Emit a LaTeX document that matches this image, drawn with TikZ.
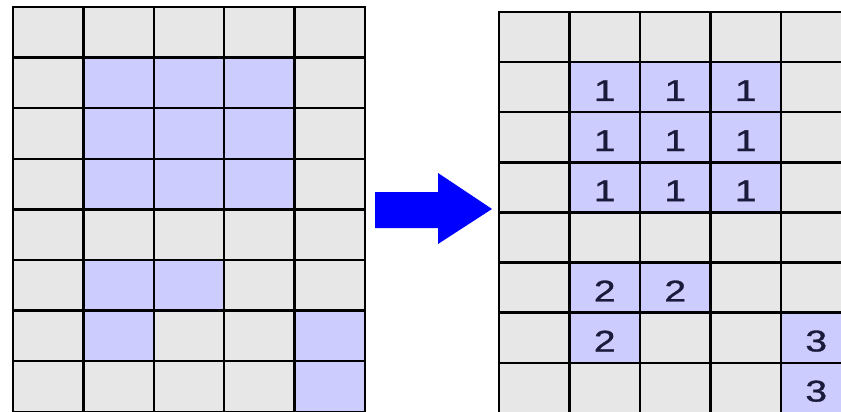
\documentclass[tikz,border=0pt]{standalone}
\usepackage{fontspec}
\setmainfont{Liberation Sans}
\newfontfamily\digitfont[FakeStretch=1.3, FakeBold=1]{Liberation Sans}
\definecolor{cellgray}{HTML}{E7E7E7}
\definecolor{cellblue}{HTML}{CCCCFF}
\definecolor{arrowblue}{HTML}{0000FF}
\definecolor{digit}{HTML}{1A1A3A}
\newcommand{\bigdigit}[1]{\scalebox{1.25}{#1}}
\begin{document}
\begin{tikzpicture}[x=1pt,y=-1pt,
  cellbase/.style={draw=black, line width=2.4pt, rectangle, inner sep=0pt},
  lcell/.style={cellbase, minimum width=70.4pt, minimum height=50.6pt},
  rcell/.style={cellbase, minimum width=70.4pt, minimum height=50.1pt},
  grayfill/.style={fill=cellgray},
  bluefill/.style={fill=cellblue},
  digitlbl/.style={inner sep=0pt, text=digit, font=\digitfont\fontsize{24}{24}\selectfont}]
\useasboundingbox (0,0) rectangle (841,412);
\clip (0,0) rectangle (841,412);
% left grid
\foreach \r in {0,...,7}{
  \foreach \c in {0,...,4}{
    \node[lcell, grayfill] (L-\r-\c) at ({13+70.4*\c+35.2},{7+50.6*\r+25.3}) {};
  }
}
\foreach \r/\c in {1/1,1/2,1/3,2/1,2/2,2/3,3/1,3/2,3/3,5/1,5/2,6/1,6/4,7/4}{
  \node[lcell, bluefill] (LB-\r-\c) at ({13+70.4*\c+35.2},{7+50.6*\r+25.3}) {};
}
% right grid
\foreach \r in {0,...,7}{
  \foreach \c in {0,...,4}{
    \node[rcell, grayfill] (R-\r-\c) at ({499+70.5*\c+35.25},{12+50.1*\r+25.05}) {};
  }
}
\foreach \r/\c/\d in {1/1/1,1/2/1,1/3/1,2/1/1,2/2/1,2/3/1,3/1/1,3/2/1,3/3/1,5/1/2,5/2/2,6/1/2,6/4/3,7/4/3}{
  \node[rcell, bluefill] (RB-\r-\c) at ({499+70.5*\c+35.25},{12+50.1*\r+25.05}) {};
  \node[digitlbl] (T-\r-\c) at ({499+70.5*\c+35.25},{12+50.1*\r+28.5}) {\bigdigit{\d}};
}
% arrow
\fill[arrowblue] (375,192) -- (438,192) -- (438,173) -- (492,209) -- (438,244) -- (438,228) -- (375,228) -- cycle;
\end{tikzpicture}
\end{document}
